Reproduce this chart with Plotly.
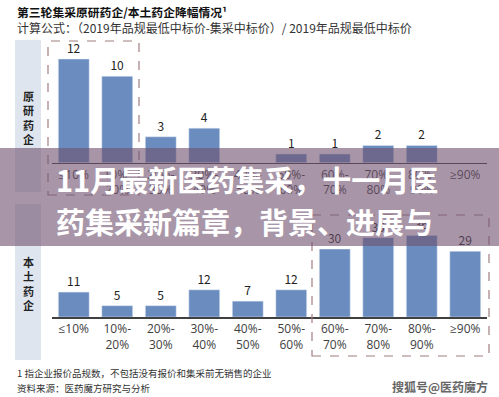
import plotly.graph_objects as go

categories = ["≤10%", "10%-<br>20%", "20%-<br>30%", "30%-<br>40%", "40%-<br>50%",
              "50%-<br>60%", "60%-<br>70%", "70%-<br>80%", "80%-<br>90%", "≥90%"]
original_vals = [12, 10, 3, 4, None, 1, 1, 2, 2, None]
domestic_vals = [11, 5, 5, 12, 7, 12, 30, 35, 36, 29]

title_text = "第三轮集采原研药企/本土药企降幅情况¹"
subtitle_text = "计算公式：（2019年品规最低中标价-集采中标价）/ 2019年品规最低中标价"
banner_lines = ["11月最新医药集采，十一月医", "药集采新篇章，背景、进展与"]
footnote_lines = ["1 指企业报价品规数，不包括没有报价和集采前无销售的企业", "资料来源：医药魔方研究与分析"]
watermark = "搜狐号@医药魔方"
row_labels = ["原<br>研<br>药<br>企", "本<br>土<br>药<br>企"]

W, H = 499, 397
def fx(x): return x / W
def fy(y): return 1 - y / H

BAR = "#6a8cbf"
CJK = "Noto Sans CJK SC"

fig = go.Figure()
fig.add_trace(go.Bar(x=categories, y=original_vals, marker_color=BAR,
                     text=[("" if v is None else str(v)) for v in original_vals],
                     textposition="outside", cliponaxis=False,
                     textfont=dict(size=12, color="#222222"),
                     xaxis="x", yaxis="y", showlegend=False, hoverinfo="skip"))
fig.add_trace(go.Bar(x=categories, y=domestic_vals, marker_color=BAR,
                     text=[str(v) for v in domestic_vals],
                     textposition="outside", cliponaxis=False,
                     textfont=dict(size=12, color="#222222"),
                     xaxis="x2", yaxis="y2", showlegend=False, hoverinfo="skip"))

axis_common = dict(showgrid=False, zeroline=False, showline=True, linecolor="#404040",
                   linewidth=1.5, ticks="", tickfont=dict(size=12, color="#404040", family="Open Sans"),
                   fixedrange=True)
fig.update_layout(
    width=W, height=H, autosize=False,
    margin=dict(l=0, r=0, t=0, b=0),
    paper_bgcolor="white", plot_bgcolor="white",
    bargap=0.29,
    font=dict(family=CJK),
    xaxis=dict(domain=[fx(52), fx(487)], anchor="y", **axis_common),
    yaxis=dict(domain=[fy(162.7), fy(40)], range=[0, 14.2], visible=False, fixedrange=True),
    xaxis2=dict(domain=[fx(52), fx(487)], anchor="y2", **axis_common),
    yaxis2=dict(domain=[fy(317), fy(215)], range=[0, 45], visible=False, fixedrange=True),
)

shapes = []
# left label boxes
for y0, y1 in [(40, 192), (204, 360)]:
    shapes.append(dict(type="rect", xref="paper", yref="paper", x0=fx(15), x1=fx(41),
                       y0=fy(y1), y1=fy(y0), fillcolor="#dfe5ee", line=dict(width=0), layer="below"))
# dashed boxes
for x0, x1, y0, y1 in [(48, 139, 41, 195), (312, 489, 215, 356)]:
    shapes.append(dict(type="rect", xref="paper", yref="paper", x0=fx(x0), x1=fx(x1),
                       y0=fy(y1), y1=fy(y0), fillcolor="rgba(0,0,0,0)",
                       line=dict(color="#a07f7f", width=1.2, dash="dash"), layer="above"))
# banner overlay
shapes.append(dict(type="rect", xref="paper", yref="paper", x0=0, x1=1,
                   y0=fy(246), y1=fy(148), fillcolor="rgba(110,80,110,0.6)",
                   line=dict(width=0), layer="above"))
fig.update_layout(shapes=shapes)

ann = []
ann.append(dict(text="<b>" + title_text + "</b>", x=fx(15), y=fy(12), xref="paper", yref="paper",
                xanchor="left", yanchor="middle", showarrow=False,
                font=dict(size=11.8, color="#111111", family=CJK)))
ann.append(dict(text=subtitle_text, x=fx(15), y=fy(28), xref="paper", yref="paper",
                xanchor="left", yanchor="middle", showarrow=False,
                font=dict(size=12, color="#333333", family=CJK)))
for lbl, yc in zip(row_labels, [117, 283]):
    ann.append(dict(text="<b>" + lbl + "</b>", x=fx(28), y=fy(yc), xref="paper", yref="paper",
                    xanchor="center", yanchor="middle", showarrow=False,
                    font=dict(size=11, color="#222222", family=CJK)))
for line, yc in zip(banner_lines, [179, 221]):
    ann.append(dict(text="<b>" + line + "</b>", x=fx(54), y=fy(yc), xref="paper", yref="paper",
                    xanchor="left", yanchor="middle", showarrow=False,
                    font=dict(size=29, color="white", family=CJK)))
for line, yc in zip(footnote_lines, [373, 388]):
    ann.append(dict(text=line, x=fx(15), y=fy(yc), xref="paper", yref="paper",
                    xanchor="left", yanchor="middle", showarrow=False,
                    font=dict(size=9.5, color="#333333", family=CJK)))
ann.append(dict(text="<b>" + watermark + "</b>", x=fx(490), y=fy(386), xref="paper", yref="paper",
                xanchor="right", yanchor="middle", showarrow=False,
                font=dict(size=12, color="#666666", family=CJK)))
fig.update_layout(annotations=ann)

fig.write_html("out.html", config={"displayModeBar": False, "staticPlot": True},
               post_script="document.body.style.margin='0';document.body.style.overflow='hidden';")
